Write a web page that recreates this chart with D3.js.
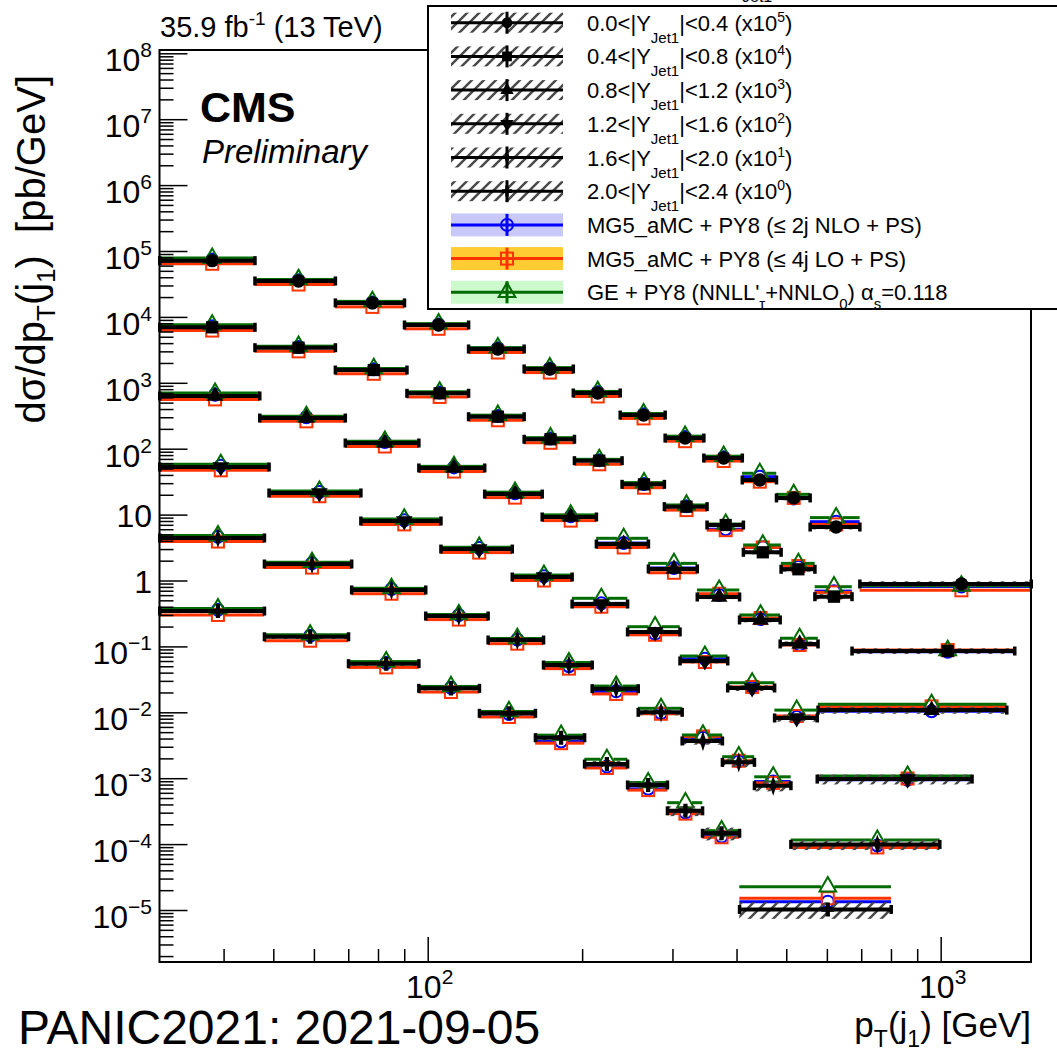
<!DOCTYPE html>
<html>
<head>
<meta charset="utf-8">
<script src="https://cdn.jsdelivr.net/npm/d3@7"></script>
<style>
  body { margin: 0; background: #fff; }
  text { font-family: "Liberation Sans", Arial, Helvetica, sans-serif; fill: #000; }
</style>
</head>
<body>
<script>
// ------------  DATA  ------------
// rapidity bins of the leading jet and the factor each one is scaled by
const rapLo = [0.0, 0.4, 0.8, 1.2, 1.6, 2.0];
const rapHi = [0.4, 0.8, 1.2, 1.6, 2.0, 2.4];
const scaleExp = [5, 4, 3, 2, 1, 0];

// pT(j1) bin edges [GeV], one list per rapidity bin
const ptEdges = [
  [30, 46, 66, 90, 120, 154, 192, 237, 290, 345, 410, 478, 556, 695, 1500],
  [30, 46, 66, 91, 120, 154, 193, 239, 289, 350, 412, 488, 568, 671, 1393],
  [30, 47, 69, 96, 129, 167, 213, 269, 335, 405, 486, 576, 1344],
  [30, 49, 74, 106, 146, 191, 245, 310, 384, 474, 574, 1150],
  [30, 48, 71, 99, 131, 168, 209, 257, 313, 375, 433, 510, 995],
  [30, 48, 70, 96, 126, 162, 202, 245, 293, 343, 405, 800]
];

// measured dsigma/dpT [pb/GeV] (unscaled)
const xsecData = [
  [0.713, 0.351, 0.163, 0.0754, 0.0326, 0.0162, 0.0070, 0.00324, 0.00145, 7.22e-4, 3.35e-4, 1.79e-4, 6.48e-5, 8.85e-6],
  [0.695, 0.341, 0.1563, 0.0693, 0.0306, 0.0139, 0.00658, 0.00288, 0.00132, 6.95e-4, 2.68e-4, 1.48e-4, 5.68e-5, 8.51e-6],
  [0.631, 0.292, 0.122, 0.051, 0.0205, 0.0092, 0.00358, 0.0015, 5.62e-4, 2.52e-4, 1.09e-4, 1.08e-5],
  [0.528, 0.213, 0.080, 0.030, 0.0113, 0.0044, 0.00166, 6.01e-4, 2.34e-4, 8.2e-5, 9.7e-6],
  [0.442, 0.178, 0.0718, 0.0289, 0.0125, 0.00522, 0.00228, 0.0010, 3.67e-4, 1.74e-4, 7.7e-5, 9.9e-6],
  [0.344, 0.140, 0.0547, 0.0231, 0.00966, 0.00412, 0.00164, 7.9e-4, 3.2e-4, 1.46e-4, 1.02e-5]
];

// relative systematic uncertainty of the measurement (hatched band)
const xsecUnc = [
  [0.05, 0.05, 0.05, 0.05, 0.05, 0.05, 0.05, 0.05, 0.05, 0.06, 0.06, 0.07, 0.08, 0.10],
  [0.05, 0.05, 0.05, 0.05, 0.05, 0.05, 0.05, 0.05, 0.06, 0.06, 0.07, 0.08, 0.09, 0.10],
  [0.05, 0.05, 0.05, 0.05, 0.05, 0.05, 0.05, 0.06, 0.07, 0.08, 0.09, 0.12],
  [0.05, 0.05, 0.05, 0.05, 0.05, 0.06, 0.07, 0.08, 0.10, 0.12, 0.17],
  [0.06, 0.06, 0.06, 0.06, 0.06, 0.07, 0.08, 0.10, 0.12, 0.15, 0.18, 0.18],
  [0.07, 0.07, 0.07, 0.07, 0.08, 0.09, 0.11, 0.13, 0.17, 0.22, 0.28]
];

// MG5_aMC + PY8 (<= 2j NLO + PS)
const xsecNLO = [
  [0.74, 0.36, 0.166, 0.077, 0.0334, 0.0165, 0.0072, 0.00332, 0.00150, 7.4e-4, 3.76e-4, 1.75e-4, 7.8e-5, 8.1e-6],
  [0.72, 0.35, 0.160, 0.071, 0.0314, 0.0143, 0.0067, 0.00292, 0.00134, 6.0e-4, 3.2e-4, 1.6e-4, 6.9e-5, 8.3e-6],
  [0.66, 0.30, 0.126, 0.052, 0.0210, 0.0094, 0.0037, 0.00155, 6.02e-4, 2.6e-4, 1.06e-4, 1.04e-5],
  [0.55, 0.22, 0.082, 0.031, 0.0116, 0.0045, 0.00155, 6.49e-4, 2.36e-4, 8.5e-5, 9.5e-6],
  [0.46, 0.183, 0.074, 0.0298, 0.0127, 0.0050, 0.00208, 9.7e-4, 4.1e-4, 1.8e-4, 8.9e-5, 9.5e-6],
  [0.36, 0.145, 0.056, 0.0236, 0.0094, 0.0036, 0.0015, 6.9e-4, 3.0e-4, 1.3e-4, 1.34e-5]
];

// MG5_aMC + PY8 (<= 4j LO + PS)
const xsecLO = [
  [0.64, 0.31, 0.142, 0.066, 0.0288, 0.0143, 0.0062, 0.00288, 0.00130, 6.5e-4, 3.16e-4, 1.79e-4, 7.1e-5, 7.1e-6],
  [0.62, 0.30, 0.137, 0.061, 0.0270, 0.0123, 0.0058, 0.00256, 0.00117, 5.8e-4, 3.18e-4, 1.66e-4, 6.6e-5, 8.8e-6],
  [0.56, 0.26, 0.108, 0.045, 0.0181, 0.0081, 0.00317, 0.00131, 6.3e-4, 2.7e-4, 1.05e-4, 1.23e-5],
  [0.47, 0.19, 0.071, 0.0265, 0.0100, 0.0040, 0.00150, 5.8e-4, 2.43e-4, 8.8e-5, 9.9e-6],
  [0.39, 0.157, 0.063, 0.0255, 0.0110, 0.0046, 0.0019, 9.5e-4, 4.3e-4, 1.84e-4, 8.5e-5, 8.9e-6],
  [0.30, 0.122, 0.048, 0.0203, 0.0085, 0.0034, 0.00143, 6.6e-4, 2.9e-4, 1.27e-4, 1.51e-5]
];

// GE + PY8 (NNLL'tau + NNLO0)
const xsecGE = [
  [0.78, 0.37, 0.172, 0.079, 0.0342, 0.0170, 0.0074, 0.00342, 0.00155, 7.7e-4, 4.24e-4, 2.03e-4, 9.0e-5, 8.3e-6],
  [0.76, 0.36, 0.165, 0.073, 0.0323, 0.0147, 0.0069, 0.00306, 0.00140, 7.2e-4, 3.46e-4, 1.82e-4, 8.05e-5, 8.7e-6],
  [0.70, 0.31, 0.130, 0.054, 0.0219, 0.0099, 0.00437, 0.00182, 7.18e-4, 3.0e-4, 1.33e-4, 1.32e-5],
  [0.58, 0.228, 0.086, 0.032, 0.0121, 0.00537, 0.00199, 7.15e-4, 2.81e-4, 1.08e-4, 1.08e-5],
  [0.48, 0.189, 0.076, 0.0305, 0.0132, 0.0057, 0.0025, 1.15e-3, 4.53e-4, 2.12e-4, 1.05e-4, 1.15e-5],
  [0.375, 0.150, 0.0588, 0.0247, 0.0103, 0.0045, 0.00194, 8.6e-4, 4.25e-4, 1.6e-4, 2.26e-5]
];

// ------------  PARAMETERS  ------------
const svgWidth = 1057;
const svgHeight = 1061;
const frame = { left: 159.5, right: 1031, top: 50, bottom: 962 };

const colNLO = "#0000ff", colLO = "#ff3300", colGE = "#006b00";
const bandNLO = "#c8c8fa", bandLO = "#ffcc33", bandGE = "#ccfacc";

// ------------  SCALES  ------------
const x = d3.scaleLog().domain([30, 1500]).range([frame.left, frame.right]);
const y = d3.scaleLog().domain([1.626e-6, 1.122e8]).range([frame.bottom, frame.top]);

let svg = d3.select("body").append("svg").attr("width", svgWidth).attr("height", svgHeight);
svg.append("rect").attr("width", svgWidth).attr("height", svgHeight).attr("fill", "#fff");

const defs = svg.append("defs");
defs.append("pattern").attr("id", "hatch").attr("patternUnits", "userSpaceOnUse")
  .attr("width", 12).attr("height", 12)
  .append("path").attr("d", "M-3,3L3,-3M0,12L12,0M9,15L15,9")
  .attr("stroke", "#4a4a4a").attr("stroke-width", 2.5);

// marker shapes
const dataSymbols = [
  d3.symbol(d3.symbolCircle, 140),
  d3.symbol(d3.symbolSquare, 150),
  d3.symbol(d3.symbolTriangle, 120),
  d3.symbol(d3.symbolTriangle, 120),
  d3.symbol(d3.symbolDiamond, 90),
  d3.symbol(d3.symbolCross, 110)
];
const dataSymbolTf = ["", "", "", "rotate(180)", "scale(0.65,1.15)", "scale(0.9,1)"];

function drawTheory(g, row, vals, color, kind) {
  const e = ptEdges[row], s = Math.pow(10, scaleExp[row]);
  vals.forEach((v, i) => {
    const x0 = x(e[i]), x1 = x(e[i + 1]), xc = x((e[i] + e[i + 1]) / 2), yy = y(v * s);
    const gap = 6.5;
    g.append("line").attr("x1", x0).attr("x2", Math.max(x0, xc - gap)).attr("y1", yy).attr("y2", yy)
      .attr("stroke", color).attr("stroke-width", 3);
    g.append("line").attr("x1", Math.min(x1, xc + gap)).attr("x2", x1).attr("y1", yy).attr("y2", yy)
      .attr("stroke", color).attr("stroke-width", 3);
    drawOpenMarker(g, xc, yy, color, kind);
  });
}

function drawOpenMarker(g, cx, cy, color, kind) {
  if (kind === "circle") {
    g.append("circle").attr("cx", cx).attr("cy", cy).attr("r", 6)
      .attr("fill", "none").attr("stroke", color).attr("stroke-width", 2);
  } else if (kind === "square") {
    g.append("rect").attr("x", cx - 6).attr("y", cy - 6).attr("width", 12).attr("height", 12)
      .attr("fill", "none").attr("stroke", color).attr("stroke-width", 2);
  } else {
    g.append("path").attr("transform", `translate(${cx},${cy})`)
      .attr("d", d3.symbol(d3.symbolTriangle, 120)())
      .attr("fill", "none").attr("stroke", color).attr("stroke-width", 2);
  }
}

// ------------  CHART  ------------
const plot = svg.append("g");

ptEdges.forEach((e, r) => {
  const gr = plot.append("g");
  drawTheory(gr, r, xsecNLO[r], colNLO, "circle");
  drawTheory(gr, r, xsecLO[r], colLO, "square");
  drawTheory(gr, r, xsecGE[r], colGE, "triangle");

  const s = Math.pow(10, scaleExp[r]);
  xsecData[r].forEach((v, i) => {
    const x0 = x(e[i]), x1 = x(e[i + 1]), xc = x((e[i] + e[i + 1]) / 2), yy = y(v * s);
    const u = xsecUnc[r][i];
    const yt = y(v * s * (1 + u)), yb = y(v * s * (1 - u));
    gr.append("rect").attr("x", x0).attr("y", yt).attr("width", x1 - x0).attr("height", yb - yt)
      .attr("fill", "url(#hatch)");
    gr.append("line").attr("x1", x0).attr("x2", x1).attr("y1", yy).attr("y2", yy)
      .attr("stroke", "#000").attr("stroke-width", 4);
    [x0, x1].forEach(xe => gr.append("rect").attr("x", xe - 1.5).attr("y", yy - 4.5)
      .attr("width", 3.5).attr("height", 9).attr("fill", "#000"));
    gr.append("path").attr("transform", `translate(${xc},${yy}) ${dataSymbolTf[r]}`)
      .attr("d", dataSymbols[r]()).attr("fill", "#000");
  });
});

// ------------  AXIS  ------------
const yMinor = [];
for (let k = -6; k <= 8; k++) {
  for (let m = 2; m <= 9; m++) {
    const v = m * Math.pow(10, k);
    if (v > y.domain()[0] && v < y.domain()[1]) yMinor.push(v);
  }
}
const yMajor = d3.range(-5, 9).map(k => Math.pow(10, k));

function tickGroup(axis) {
  return g => {
    g.call(axis);
    g.select(".domain").remove();
    g.selectAll("line").attr("stroke", "#000").attr("stroke-width", 1.5);
  };
}

svg.append("g").attr("transform", `translate(${frame.left},0)`)
  .call(tickGroup(d3.axisLeft(y).tickValues(yMinor).tickSize(-14).tickFormat("")));
svg.append("g").attr("transform", `translate(${frame.left},0)`)
  .call(tickGroup(d3.axisLeft(y).tickValues(yMajor).tickSize(-28).tickFormat("")));

const xMinor = [40, 50, 60, 70, 80, 90, 200, 300, 400, 500, 600, 700, 800, 900];
svg.append("g").attr("transform", `translate(0,${frame.bottom})`)
  .call(tickGroup(d3.axisBottom(x).tickValues(xMinor).tickSize(-13).tickFormat("")));
svg.append("g").attr("transform", `translate(0,${frame.bottom})`)
  .call(tickGroup(d3.axisBottom(x).tickValues([100, 1000]).tickSize(-25).tickFormat("")));

// frame
svg.append("rect").attr("x", frame.left).attr("y", frame.top)
  .attr("width", frame.right - frame.left).attr("height", frame.bottom - frame.top)
  .attr("fill", "none").attr("stroke", "#000").attr("stroke-width", 2);

function powLabel(xp, yp, k, anchor, size, supSize, rise) {
  const t = svg.append("text").attr("x", xp).attr("y", yp).attr("text-anchor", anchor)
    .attr("font-size", size);
  if (k === 0) t.text("1");
  else if (k === 1) t.text("10");
  else {
    t.append("tspan").text("10");
    t.append("tspan").attr("dy", -rise).attr("font-size", supSize).text(k < 0 ? "\u2212" + (-k) : String(k));
  }
  return t;
}

d3.range(-5, 9).forEach(k => {
  const yy = y(Math.pow(10, k));
  powLabel(152, yy + (k === 0 || k === 1 ? 12 : 18), k, "end", 32, 21, 14);
});
[2, 3].forEach(k => powLabel(x(Math.pow(10, k)) + 2, 998, k, "middle", 32, 21, 14));

// axis titles
const ytitle = svg.append("text").attr("transform", "translate(45,75) rotate(-90)")
  .attr("text-anchor", "end").attr("font-size", 40).style("white-space", "pre");
ytitle.append("tspan").text("d\u03c3/dp");
ytitle.append("tspan").attr("dy", 10).attr("font-size", 26).text("T");
ytitle.append("tspan").attr("dy", -10).text("(j");
ytitle.append("tspan").attr("dy", 10).attr("font-size", 26).text("1");
ytitle.append("tspan").attr("dy", -10).text(")  [pb/GeV]");

const xtitle = svg.append("text").attr("x", 1031).attr("y", 1037)
  .attr("text-anchor", "end").attr("font-size", 35).style("white-space", "pre");
xtitle.append("tspan").text("p");
xtitle.append("tspan").attr("dy", 10).attr("font-size", 23).text("T");
xtitle.append("tspan").attr("dy", -10).text("(j");
xtitle.append("tspan").attr("dy", 10).attr("font-size", 23).text("1");
xtitle.append("tspan").attr("dy", -10).text(") [GeV]");

// top labels
const lumi = svg.append("text").attr("x", 160).attr("y", 37).attr("font-size", 29);
lumi.append("tspan").text("35.9 fb");
lumi.append("tspan").attr("dy", -12).attr("font-size", 19).text("-1");
lumi.append("tspan").attr("dy", 12).text(" (13 TeV)");

svg.append("text").attr("x", 200).attr("y", 122).attr("font-size", 43).attr("font-weight", "bold").text("CMS");
svg.append("text").attr("x", 202).attr("y", 163).attr("font-size", 33).attr("font-style", "italic").text("Preliminary");

svg.append("text").attr("x", 18).attr("y", 1044).attr("font-size", 48).text("PANIC2021: 2021-09-05");

// ------------  LEGEND  ------------
svg.append("text").attr("x", 742).attr("y", 2).attr("font-size", 16).text("Jet1");

const leg = svg.append("g");
leg.append("rect").attr("x", 428).attr("y", 6).attr("width", 700).attr("height", 303)
  .attr("fill", "#fff").attr("stroke", "#000").attr("stroke-width", 2);

const legX0 = 451, legX1 = 563, legXc = 507, legText = 587;
const legRowY = i => 22.7 + i * 33.7;

rapLo.forEach((lo, i) => {
  const ry = legRowY(i);
  leg.append("rect").attr("x", legX0).attr("y", ry - 10).attr("width", legX1 - legX0).attr("height", 20)
    .attr("fill", "url(#hatch)");
  leg.append("line").attr("x1", legX0).attr("x2", legX1).attr("y1", ry).attr("y2", ry)
    .attr("stroke", "#000").attr("stroke-width", 3);
  leg.append("line").attr("x1", legXc).attr("x2", legXc).attr("y1", ry - 11).attr("y2", ry + 11)
    .attr("stroke", "#000").attr("stroke-width", 3);
  leg.append("path").attr("transform", `translate(${legXc},${ry}) ${dataSymbolTf[i]} scale(0.8)`)
    .attr("d", dataSymbols[i]()).attr("fill", "#000");

  const t = leg.append("text").attr("x", legText).attr("y", ry + 8).attr("font-size", 22);
  t.append("tspan").text(lo.toFixed(1) + "<|Y");
  t.append("tspan").attr("dy", 12).attr("font-size", 15).text("Jet1");
  t.append("tspan").attr("dy", -12).text("|<" + rapHi[i].toFixed(1) + " (x10");
  t.append("tspan").attr("dy", -9).attr("font-size", 14).text(String(scaleExp[i]));
  t.append("tspan").attr("dy", 9).text(")");
});

const theoryLeg = [
  { color: colNLO, band: bandNLO, kind: "circle" },
  { color: colLO, band: bandLO, kind: "square" },
  { color: colGE, band: bandGE, kind: "triangle" }
];
theoryLeg.forEach((d, j) => {
  const ry = legRowY(6 + j);
  leg.append("rect").attr("x", legX0).attr("y", ry - 11.5).attr("width", legX1 - legX0).attr("height", 23)
    .attr("fill", d.band);
  leg.append("line").attr("x1", legX0).attr("x2", legX1).attr("y1", ry).attr("y2", ry)
    .attr("stroke", d.color).attr("stroke-width", 3);
  leg.append("line").attr("x1", legXc).attr("x2", legXc).attr("y1", ry - 11).attr("y2", ry + 11)
    .attr("stroke", d.color).attr("stroke-width", 3);
  drawOpenMarker(leg, legXc, ry, d.color, d.kind);
});

leg.append("text").attr("x", legText).attr("y", legRowY(6) + 8).attr("font-size", 22)
  .text("MG5_aMC + PY8 (\u2264 2j NLO + PS)");
leg.append("text").attr("x", legText).attr("y", legRowY(7) + 8).attr("font-size", 22)
  .text("MG5_aMC + PY8 (\u2264 4j LO + PS)");
const geText = leg.append("text").attr("x", legText).attr("y", legRowY(8) + 8).attr("font-size", 22);
geText.append("tspan").text("GE + PY8 (NNLL'");
geText.append("tspan").attr("dy", 9).attr("font-size", 15).text("\u03c4");
geText.append("tspan").attr("dy", -9).text("+NNLO");
geText.append("tspan").attr("dy", 9).attr("font-size", 15).text("0");
geText.append("tspan").attr("dy", -9).text(") \u03b1");
geText.append("tspan").attr("dy", 9).attr("font-size", 15).text("s");
geText.append("tspan").attr("dy", -9).text("=0.118");
</script>
</body>
</html>
